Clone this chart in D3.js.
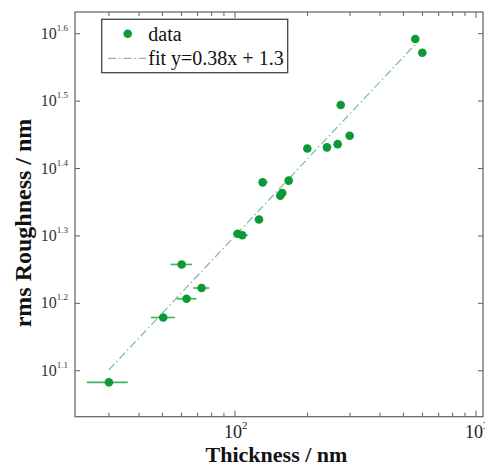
<!DOCTYPE html>
<html>
<head>
<meta charset="utf-8">
<script src="https://cdn.jsdelivr.net/npm/d3@7"></script>
<style>
    html, body { margin: 0; padding: 0; background: #fff; }
    svg { display: block; }
</style>
</head>
<body>
<div id="chart-roughness"></div>
<script>
(function () {

    // thickness (nm) vs rms roughness (nm)
    var thickness = [30.0, 50.4, 63.0, 60.1, 72.7, 102.6, 107.2, 125.8, 130.3, 154.2,
                     157.1, 167.1, 199.6, 240.8, 266.8, 274.6, 299.1, 559.8, 598.6];
    var roughness = [12.1, 15.1, 16.1, 18.1, 16.7, 20.1, 20.0, 21.1, 23.96, 22.9,
                     23.1, 24.1, 26.9, 27.0, 27.3, 31.2, 28.1, 39.1, 37.3];
    // horizontal error bars (thickness low / high)
    var errLow  = [24.3, 44.8, 57.2, 54.1, 67.1, 98.0, 101.5, 121.0, 126.2, 151.0,
                   153.5, 164.0, 196.0, 236.5, 262.0, 270.0, 294.0, 552.0, 590.0];
    var errHigh = [35.9, 56.4, 69.3, 66.3, 78.2, 108.5, 113.0, 129.4, 136.7, 157.5,
                   160.5, 170.0, 203.0, 245.0, 271.5, 279.0, 304.0, 568.0, 607.0];

    // fit in log-log: log10(R) = slope * log10(t / 100) + intercept
    var fitSlope     = 0.38;
    var fitIntercept = 1.3;
    var fitRange     = [30, 570];
    var fitLabel     = "fit y=0.38x + 1.3";

    var xTicksMajor = [100, 1000];
    var xTicksMinor = [30, 40, 50, 60, 70, 80, 90, 200, 300, 400, 500, 600, 700, 800, 900];
    var yTickExp    = ["1.1", "1.2", "1.3", "1.4", "1.5", "1.6"];
    var xTickExp    = ["2", "3"];

    var W = 485, H = 466;
    var margin = { top: 12, right: 2, bottom: 49.3, left: 75 };
    var iW = W - margin.left - margin.right;
    var iH = H - margin.top - margin.bottom;

    var GREEN     = "#0b9a36";
    var ERR_GREEN = "#3fb45c";
    var FIT_COLOR = "#86bda6";
    var FRAME     = "#5f5f5f";
    var SERIF     = "'Liberation Serif', 'Times New Roman', serif";

    var points = thickness.map(function (t, i) {
        return { t: t, r: roughness[i], lo: errLow[i], hi: errHigh[i] };
    });

    var svg = d3.select("#chart-roughness")
        .append("svg")
        .attr("width", W)
        .attr("height", H);

    var g = svg.append("g")
        .attr("transform", "translate(" + margin.left + "," + margin.top + ")");

    /* scales */
    var x = d3.scaleLog()
        .domain([21.7, 1069])
        .range([0, iW]);

    var y = d3.scaleLog()
        .domain([Math.pow(10, 1.0318), Math.pow(10, 1.6322)])
        .range([iH, 0]);

    var yTicks = yTickExp.map(function (e) { return Math.pow(10, +e); });

    /* ticks - inward, on all four sides */
    var tickG = g.append("g")
        .attr("stroke", FRAME)
        .attr("stroke-width", 1);

    function xTickLines(vals, len) {
        vals.forEach(function (v) {
            tickG.append("line")
                .attr("x1", x(v)).attr("x2", x(v))
                .attr("y1", iH).attr("y2", iH - len);
            tickG.append("line")
                .attr("x1", x(v)).attr("x2", x(v))
                .attr("y1", 0).attr("y2", len);
        });
    }
    xTickLines(xTicksMajor, 6);
    xTickLines(xTicksMinor, 4);

    tickG.selectAll(".yl").data(yTicks).enter().append("line")
        .attr("x1", 0).attr("x2", 5)
        .attr("y1", function (d) { return y(d); }).attr("y2", function (d) { return y(d); });
    tickG.selectAll(".yr").data(yTicks).enter().append("line")
        .attr("x1", iW).attr("x2", iW - 5)
        .attr("y1", function (d) { return y(d); }).attr("y2", function (d) { return y(d); });

    /* frame */
    g.append("rect")
        .attr("width", iW).attr("height", iH)
        .attr("fill", "none")
        .attr("stroke", FRAME)
        .attr("stroke-width", 1.2);

    /* tick labels with superscript exponent */
    yTicks.forEach(function (v, i) {
        var t = g.append("text")
            .attr("x", -7).attr("y", y(v) + 5)
            .attr("text-anchor", "end")
            .style("font-family", SERIF)
            .style("font-size", "16px")
            .style("fill", "#333");
        t.append("tspan").text("10");
        t.append("tspan")
            .attr("dy", -8)
            .style("font-size", "9px")
            .text(yTickExp[i]);
    });

    xTicksMajor.forEach(function (v, i) {
        var t = g.append("text")
            .attr("x", x(v) - 11).attr("y", iH + 21.5)
            .attr("text-anchor", "start")
            .style("font-family", SERIF)
            .style("font-size", "18px")
            .style("fill", "#222");
        t.append("tspan").text("10");
        t.append("tspan")
            .attr("dy", -9)
            .style("font-size", "11px")
            .text(xTickExp[i]);
    });

    /* axis titles */
    svg.append("text")
        .attr("x", 276.5).attr("y", 462)
        .attr("text-anchor", "middle")
        .style("font-family", SERIF)
        .style("font-weight", "bold")
        .style("font-size", "22px")
        .style("fill", "#111")
        .text("Thickness / nm");

    svg.append("text")
        .attr("transform", "translate(31,223) rotate(-90)")
        .attr("text-anchor", "middle")
        .style("font-family", SERIF)
        .style("font-weight", "bold")
        .style("font-size", "24px")
        .style("fill", "#111")
        .text("rms Roughness / nm");

    /* fit line */
    var fitPts = fitRange.map(function (t) {
        return { t: t, r: Math.pow(10, fitSlope * Math.log10(t / 100) + fitIntercept) };
    });
    g.append("path")
        .datum(fitPts)
        .attr("fill", "none")
        .attr("stroke", FIT_COLOR)
        .attr("stroke-width", 1.3)
        .attr("stroke-dasharray", "8 3 1.5 3")
        .attr("d", d3.line()
            .x(function (d) { return x(d.t); })
            .y(function (d) { return y(d.r); }));

    /* error bars */
    g.append("g").selectAll("line")
        .data(points).enter().append("line")
        .attr("x1", function (d) { return x(d.lo); })
        .attr("x2", function (d) { return x(d.hi); })
        .attr("y1", function (d) { return y(d.r); })
        .attr("y2", function (d) { return y(d.r); })
        .attr("stroke", ERR_GREEN)
        .attr("stroke-width", 1.6);

    /* points */
    g.append("g").selectAll("circle")
        .data(points).enter().append("circle")
        .attr("cx", function (d) { return x(d.t); })
        .attr("cy", function (d) { return y(d.r); })
        .attr("r", 4.3)
        .attr("fill", GREEN);

    /* legend */
    var legend = svg.append("g");
    legend.append("rect")
        .attr("x", 101.7).attr("y", 19.3)
        .attr("width", 186).attr("height", 53.4)
        .attr("fill", "#fff")
        .attr("stroke", "#444")
        .attr("stroke-width", 1.3);
    legend.append("circle")
        .attr("cx", 127.7).attr("cy", 33.7)
        .attr("r", 4.3)
        .attr("fill", GREEN);
    legend.append("text")
        .attr("x", 148.3).attr("y", 40.5)
        .style("font-family", SERIF)
        .style("font-size", "20px")
        .style("fill", "#111")
        .text("data");
    legend.append("line")
        .attr("x1", 108).attr("x2", 146)
        .attr("y1", 58.3).attr("y2", 58.3)
        .attr("stroke", FIT_COLOR)
        .attr("stroke-width", 1.3)
        .attr("stroke-dasharray", "8 3 1.5 3");
    legend.append("text")
        .attr("x", 148.3).attr("y", 65)
        .style("font-family", SERIF)
        .style("font-size", "20px")
        .style("fill", "#111")
        .text(fitLabel);

}());
</script>
</body>
</html>
